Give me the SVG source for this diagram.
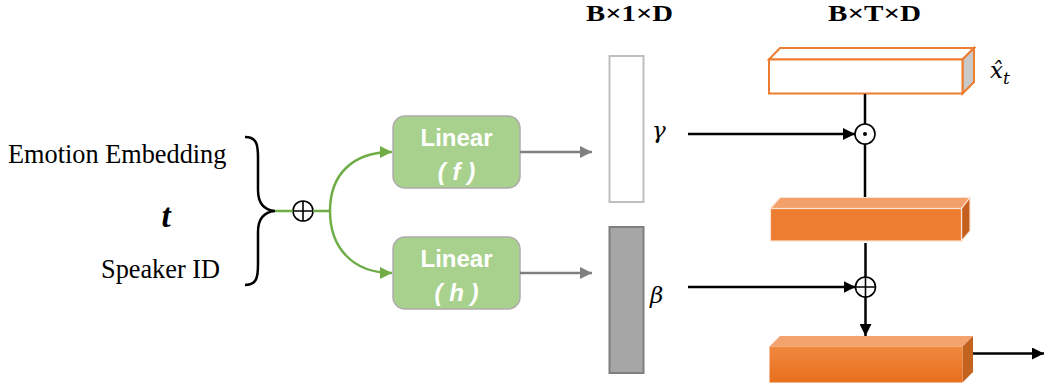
<svg xmlns="http://www.w3.org/2000/svg" width="1044" height="387" viewBox="0 0 1044 387">
  <defs>
    <style>
      .serif { font-family: "Liberation Serif", "Times New Roman", serif; fill: #000; }
      .hdr { font-family: "Liberation Serif", "Times New Roman", serif; font-weight: bold; font-size: 23px; fill: #000; }
      .lin { font-family: "Liberation Sans", Arial, sans-serif; font-weight: bold; font-size: 24px; fill: #fff; }
      .box { fill: #A9D18E; stroke: #AFABAB; stroke-width: 1.5; }
      .blk { stroke: #000; stroke-width: 2.5; fill: none; }
      .grn { stroke: #70AD47; stroke-width: 2.5; fill: none; }
      .gry { stroke: #7F7F7F; stroke-width: 2.5; fill: none; }
      .op { fill: #fff; stroke: #000; stroke-width: 1.6; }
      .math { font-family: "DejaVu Serif", "Liberation Serif", serif; font-style: italic; font-size: 23px; fill: #000; }
    </style>
    <marker id="ah-green" viewBox="0 0 10 10" refX="10" refY="5" markerWidth="12" markerHeight="12" markerUnits="userSpaceOnUse" orient="auto">
      <path d="M0,0 L10,5 L0,10 Z" fill="#70AD47"/>
    </marker>
    <marker id="ah-gray" viewBox="0 0 10 10" refX="10" refY="5" markerWidth="12" markerHeight="12" markerUnits="userSpaceOnUse" orient="auto">
      <path d="M0,0 L10,5 L0,10 Z" fill="#7F7F7F"/>
    </marker>
    <marker id="ah-black" viewBox="0 0 10 10" refX="10" refY="5" markerWidth="12" markerHeight="12" markerUnits="userSpaceOnUse" orient="auto">
      <path d="M0,0 L10,5 L0,10 Z" fill="#000"/>
    </marker>
    <linearGradient id="front-grad" x1="0" y1="0" x2="0" y2="1">
      <stop offset="0" stop-color="#F0883F"/>
      <stop offset="1" stop-color="#E86F1C"/>
    </linearGradient>
  </defs>

  <!-- dimension headers -->
  <text class="hdr" x="586" y="21" textLength="87" lengthAdjust="spacingAndGlyphs">B×1×D</text>
  <text class="hdr" x="828" y="21" textLength="93" lengthAdjust="spacingAndGlyphs">B×T×D</text>

  <!-- inputs -->
  <g id="inputs">
    <text class="serif" x="8" y="163" font-size="26.3">Emotion Embedding</text>
    <text class="serif" x="166" y="227" font-size="33" font-weight="bold" font-style="italic" text-anchor="middle">t</text>
    <text class="serif" x="101" y="278" font-size="26.3">Speaker ID</text>
    <path class="blk" d="M245,137 C257,137 258,145 258,158 L258,190 C258,204 264,210 275,211 C264,212 258,218 258,232 L258,264 C258,277 257,285 245,285"/>
  </g>

  <!-- concat operator -->
  <g id="concat">
    <circle class="op" cx="303" cy="211" r="10"/>
    <path d="M293,211 H313 M303,201 V221" stroke="#000" stroke-width="1.6"/>
  </g>

  <!-- linear layers -->
  <g id="linear-f">
    <rect class="box" x="393" y="116" width="127" height="72" rx="12"/>
    <text class="lin" x="456.5" y="146" text-anchor="middle">Linear</text>
    <text class="lin" x="456.5" y="180" text-anchor="middle" font-style="italic">( f )</text>
  </g>
  <g id="linear-h">
    <rect class="box" x="393" y="237" width="127" height="72" rx="12"/>
    <text class="lin" x="456.5" y="267" text-anchor="middle">Linear</text>
    <text class="lin" x="456.5" y="301" text-anchor="middle" font-style="italic">( h )</text>
  </g>

  <!-- gamma / beta vectors -->
  <g id="gamma">
    <rect x="609.5" y="56" width="34" height="146" fill="#fff" stroke="#BFBFBF" stroke-width="2"/>
    <text class="math" x="652" y="138">γ</text>
  </g>
  <g id="beta">
    <rect x="609.5" y="227" width="34" height="146" fill="#A6A6A6" stroke="#7F7F7F" stroke-width="2"/>
    <text class="math" x="650" y="303">β</text>
  </g>

  <!-- hidden features x_t -->
  <g id="x-hat">
    <path d="M769,59.5 L780,48 H974 L962.5,59.5 Z" fill="#fff" stroke="#ED7D31" stroke-width="2"/>
    <path d="M962.5,59.5 L974,48 V82 L962.5,93.5 Z" fill="#C9C9C9" stroke="#ED7D31" stroke-width="2"/>
    <rect x="769" y="59.5" width="193.5" height="34" fill="#fff" stroke="#ED7D31" stroke-width="2"/>
    <text class="math" x="990" y="78" font-size="22">x̂<tspan font-size="17" dy="6">t</tspan></text>
  </g>

  <!-- scaled features -->
  <g id="scaled">
    <path d="M770.5,208.5 L780,197.5 H970 L961.5,208.5 Z" fill="#F4A06A" stroke="#FBE3D3" stroke-width="1.2"/>
    <path d="M961.5,208.5 L970,197.5 V231 L961.5,241 Z" fill="#C55F1E" stroke="#FBE3D3" stroke-width="1.2"/>
    <rect x="770.5" y="208.5" width="191" height="32.5" fill="#ED7D31" stroke="#FBE3D3" stroke-width="1.2"/>
  </g>

  <!-- output features -->
  <g id="output">
    <path d="M769.5,346.5 L780,336 H973 L962.5,346.5 Z" fill="#F4A36E"/>
    <path d="M962.5,346.5 L973,336 V372 L962.5,382.5 Z" fill="#C4621F"/>
    <rect x="769.5" y="346.5" width="193" height="36" fill="url(#front-grad)"/>
  </g>

  <!-- operators -->
  <g id="mul">
    <circle class="op" cx="865" cy="134" r="10"/>
    <circle cx="865" cy="134" r="2" fill="#000"/>
  </g>
  <g id="add">
    <circle class="op" cx="865.5" cy="287" r="10"/>
    <path d="M855.5,287 H875.5 M865.5,277 V297" stroke="#000" stroke-width="1.6"/>
  </g>

  <!-- connectors -->
  <g id="connectors">
    <path class="grn" d="M275,211 H293"/>
    <path class="grn" d="M313,211 H330"/>
    <path class="grn" d="M330,211 C330,175 352,152 392,152" marker-end="url(#ah-green)"/>
    <path class="grn" d="M330,211 C330,247 352,273 392,273" marker-end="url(#ah-green)"/>
    <path class="gry" d="M520,152 H592" marker-end="url(#ah-gray)"/>
    <path class="gry" d="M520,273 H592" marker-end="url(#ah-gray)"/>
    <path class="blk" d="M688,134 H855" marker-end="url(#ah-black)"/>
    <path class="blk" d="M865,94 V124"/>
    <path class="blk" d="M865,144 V197"/>
    <path class="blk" d="M688,287 H855.5" marker-end="url(#ah-black)"/>
    <path class="blk" d="M865.5,243 V277"/>
    <path class="blk" d="M865.5,297 V336" marker-end="url(#ah-black)"/>
    <path class="blk" d="M973,353.5 H1044" marker-end="url(#ah-black)"/>
  </g>
</svg>
